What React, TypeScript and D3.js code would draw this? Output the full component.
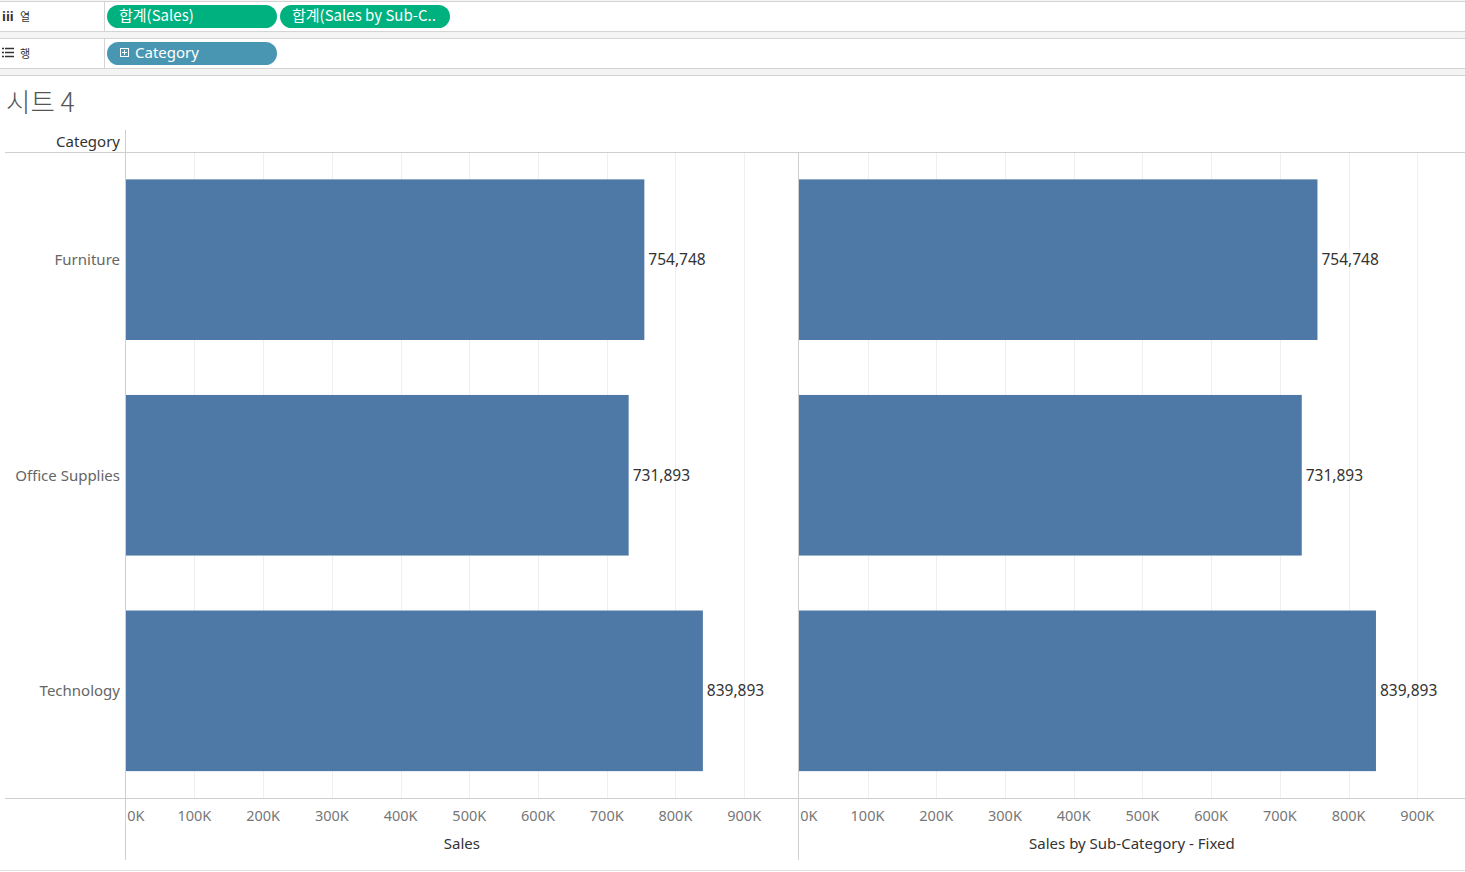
import React from "react";
import * as d3 from "d3";

const categories = ["Furniture", "Office Supplies", "Technology"];
const sales = [754748, 731893, 839893];
const salesFixed = [754748, 731893, 839893];
const ticks = [0, 100000, 200000, 300000, 400000, 500000, 600000, 700000, 800000, 900000];
const paneTitles = ["Sales", "Sales by Sub-Category - Fixed"];

const W = 1465;
const H = 872;
const FONT = "'Noto Sans', 'Open Sans', sans-serif";
const BAR = "#4e79a7";

export default function App() {
  const y = d3.scaleBand<string>().domain(categories).range([152, 798.5]).paddingInner(0.255).paddingOuter(0.127);
  const panes = [
    { x0: 125.7, x1: 798, values: sales, title: paneTitles[0] },
    { x0: 798.8, x1: 1465, values: salesFixed, title: paneTitles[1] },
  ];
  const fmt = d3.format(",");
  const tickFmt = (v: number) => `${v / 1000}K`;
  return (
    <svg width={W} height={H} style={{ position: "absolute", left: 0, top: 0, background: "#fff" }} fontFamily={FONT}>
      {/* shelves */}
      <rect x={0} y={0} width={W} height={75} fill="#f4f4f4" />
      <rect x={0} y={2} width={W} height={29} fill="#fff" />
      <rect x={0} y={38} width={W} height={30} fill="#fff" />
      <line x1={0} x2={W} y1={1.5} y2={1.5} stroke="#d4d4d4" />
      <line x1={0} x2={W} y1={31.5} y2={31.5} stroke="#d4d4d4" />
      <line x1={0} x2={W} y1={38.5} y2={38.5} stroke="#d4d4d4" />
      <line x1={0} x2={W} y1={68.5} y2={68.5} stroke="#d4d4d4" />
      <line x1={0} x2={W} y1={75.5} y2={75.5} stroke="#d4d4d4" />
      <line x1={104.5} x2={104.5} y1={2} y2={31} stroke="#d4d4d4" />
      <line x1={104.5} x2={104.5} y1={39} y2={68} stroke="#d4d4d4" />
      <text x={2} y={21} fontSize={13} fill="#333" fontWeight="bold">iii</text>
      <text x={20} y={21} fontSize={11} fill="#333" fontFamily="'Noto Sans CJK KR'">열</text>
      <g stroke="#333" strokeWidth={1.5}>
        {[48, 52, 56].map((yy) => (
          <g key={yy}>
            <line x1={2} x2={4} y1={yy + 0.5} y2={yy + 0.5} />
            <line x1={5} x2={14} y1={yy + 0.5} y2={yy + 0.5} />
          </g>
        ))}
      </g>
      <text x={20} y={58} fontSize={11} fill="#333" fontFamily="'Noto Sans CJK KR'">행</text>
      <rect x={107} y={5} width={170} height={23} rx={11.5} fill="#00b180" />
      <text x={119} y={21} fontSize={15} fill="#fff" fontFamily="'Noto Sans CJK KR', 'Noto Sans'">합계(Sales)</text>
      <rect x={280} y={5} width={170} height={23} rx={11.5} fill="#00b180" />
      <text x={292} y={21} fontSize={15} fill="#fff" fontFamily="'Noto Sans CJK KR', 'Noto Sans'">합계(Sales by Sub-C..</text>
      <rect x={107} y={42} width={170} height={23} rx={11.5} fill="#4996b2" />
      <rect x={120.5} y={48.5} width={8} height={8} fill="none" stroke="#fff" />
      <line x1={122} x2={127} y1={52.5} y2={52.5} stroke="#fff" />
      <line x1={124.5} x2={124.5} y1={50} y2={55} stroke="#fff" />
      <text x={135} y={58} fontSize={15} fill="#fff">Category</text>

      {/* title */}
      <text x={6} y={112} fontSize={26.5} fill="#555" fontFamily="'Noto Sans CJK KR'" fontWeight={300}>시트 4</text>

      {/* header */}
      <text x={120} y={147} fontSize={15} fill="#333" textAnchor="end">Category</text>

      {panes.map((p, pi) => {
        const x = d3.scaleLinear().domain([0, 100000]).range([p.x0, p.x0 + 68.72]);
        return (
          <g key={pi}>
            {ticks.slice(1).map((t) => (
              <line key={t} x1={Math.round(x(t)) + 0.5} x2={Math.round(x(t)) + 0.5} y1={153} y2={798} stroke="#efefef" />
            ))}
            {categories.map((c, i) => (
              <g key={c}>
                <rect x={p.x0} y={y(c)!} width={x(p.values[i]) - p.x0} height={y.bandwidth()} fill={BAR} />
                <text x={x(p.values[i]) + 4} y={y(c)! + y.bandwidth() / 2 + 5.5} fontSize={15.5} fill="#333">
                  {fmt(p.values[i])}
                </text>
              </g>
            ))}
            {ticks.map((t) => (
              <text key={t} x={x(t) + (t === 0 ? 1.5 : 0)} y={821} fontSize={14.5} fill="#777" textAnchor={t === 0 ? "start" : "middle"}>
                {tickFmt(t)}
              </text>
            ))}
            <text x={(p.x0 + p.x1) / 2} y={849} fontSize={15} fill="#333" textAnchor="middle">
              {p.title}
            </text>
          </g>
        );
      })}

      {categories.map((c) => (
        <text key={c} x={120} y={y(c)! + y.bandwidth() / 2 + 5.5} fontSize={15} fill="#666" textAnchor="end">
          {c}
        </text>
      ))}

      {/* frame lines */}
      <line x1={5} x2={W} y1={152.5} y2={152.5} stroke="#cfcfcf" />
      <line x1={5} x2={W} y1={798.5} y2={798.5} stroke="#cfcfcf" />
      <line x1={125.5} x2={125.5} y1={130} y2={860} stroke="#cfcfcf" />
      <line x1={798.5} x2={798.5} y1={152} y2={860} stroke="#cfcfcf" />
      <line x1={0} x2={W} y1={870.5} y2={870.5} stroke="#e0e0e0" />
    </svg>
  );
}
